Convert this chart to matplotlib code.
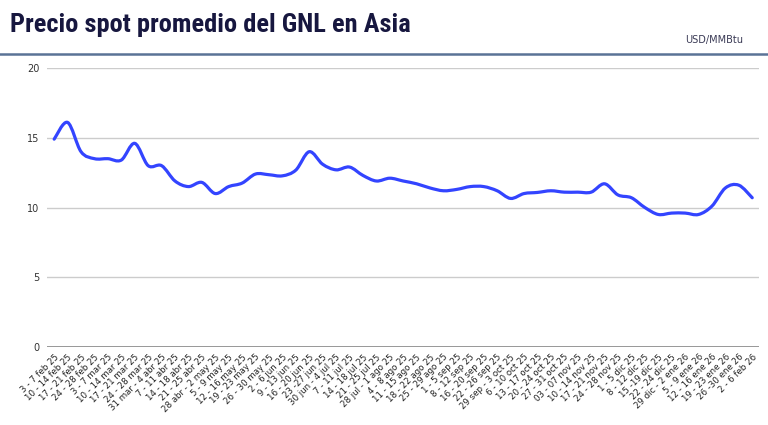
import numpy as np
import matplotlib
matplotlib.use("Agg")
import matplotlib.pyplot as plt
from matplotlib.path import Path
from matplotlib.patches import PathPatch
from matplotlib.lines import Line2D
from matplotlib import font_manager

weeks = [
    "3 - 7 feb 25", "10 - 14 feb 25", "17 - 21 feb 25", "24 - 28 feb 25",
    "3 - 7 mar 25", "10 - 14 mar 25", "17 - 21 mar 25", "24 - 28 mar 25",
    "31 mar - 4 abr 25", "7 - 11 abr 25", "14 - 18 abr 25", "21 - 25 abr 25",
    "28 abr - 2 may 25", "5 - 9 may 25", "12 - 16 may 25", "19 - 23 may 25",
    "26 - 30 may 25", "2 - 6 jun 25", "9 - 13 jun 25", "16 - 20 jun 25",
    "23 -27 jun 25", "30 jun - 4 jul 25", "7 - 11 jul 25", "14 - 18 jul 25",
    "21 - 25 jul 25", "28 jul - 1 ago 25", "4 - 8 ago 25", "11 - 15 ago 25",
    "18 - 22 ago 25", "25 - 29 ago 25", "1 - 5 sep 25", "8 - 12 sep 25",
    "16 - 20 sep 25", "22 - 26 sep 25", "29 sep - 3 oct 25", "6 - 10 oct 25",
    "13 - 17 oct 25", "20 - 24 oct 25", "27 - 31 oct 25", "03 - 07 nov 25",
    "10 - 14 nov 25", "17 - 21 nov 25", "24 - 28 nov 25", "1 - 5 dic 25",
    "8 - 12 dic 25", "15 -19 dic 25", "22 - 24 dic 25", "29 dic - 2 ene 26",
    "5 - 9 ene 26", "12 - 16 ene 26", "19 - 23 ene 26", "26 -30 ene 26",
    "2 - 6 feb 26",
]

precio = [
    14.9, 16.1, 14.0, 13.5, 13.5, 13.4, 14.6, 13.0, 13.0, 11.9,
    11.5, 11.8, 11.0, 11.5, 11.75, 12.4, 12.35, 12.27, 12.68, 14.0,
    13.1, 12.7, 12.9, 12.3, 11.9, 12.1, 11.9, 11.7, 11.4, 11.2,
    11.3, 11.5, 11.5, 11.2, 10.65, 11.0, 11.08, 11.2, 11.1, 11.1,
    11.1, 11.7, 10.9, 10.7, 10.0, 9.5, 9.6, 9.6, 9.5, 10.1,
    11.4, 11.6, 10.7,
]

y_ticks = [0, 5, 10, 15, 20]

LINE = "#3344ff"
NAVY = "#17173f"

# pick a narrow bold face for the title if one is installed
installed = {f.name for f in font_manager.fontManager.ttflist}
title_fam = "DejaVu Sans"
title_size = 15.5
for fam in ["Roboto Condensed", "Open Sans Condensed", "Liberation Sans Narrow",
            "Arial Narrow"]:
    if fam in installed:
        title_fam = fam
        title_size = 19
        break

fig = plt.figure(figsize=(7.68, 4.25), dpi=100)
fig.patch.set_facecolor("white")

# title band
fig.text(0.013, 0.925, "Precio spot promedio del GNL en Asia", color=NAVY,
         fontsize=title_size, fontweight="bold", family=title_fam,
         ha="left", va="baseline")
fig.text(0.967, 0.899, "USD/MMBtu", color="#3a3a55", fontsize=7,
         ha="right", va="baseline")
fig.add_artist(Line2D([0, 1], [0.873, 0.873], color="#5a7396", lw=1.8,
                      transform=fig.transFigure))

ax = fig.add_axes([0.0618, 0.1835, 0.9264, 0.6565])
x = np.arange(len(precio))
y = np.array(precio, dtype=float)

# smooth curve through the points (cubic bezier, catmull-rom tangents)
verts = [(x[0], y[0])]
codes = [Path.MOVETO]
n = len(x)
for i in range(n - 1):
    p0 = (x[max(i - 1, 0)], y[max(i - 1, 0)])
    p1 = (x[i], y[i])
    p2 = (x[i + 1], y[i + 1])
    p3 = (x[min(i + 2, n - 1)], y[min(i + 2, n - 1)])
    c1 = (p1[0] + (p2[0] - p0[0]) / 6, p1[1] + (p2[1] - p0[1]) / 6)
    c2 = (p2[0] - (p3[0] - p1[0]) / 6, p2[1] - (p3[1] - p1[1]) / 6)
    verts += [c1, c2, p2]
    codes += [Path.CURVE4] * 3
ax.add_patch(PathPatch(Path(verts, codes), facecolor="none", edgecolor=LINE,
                       lw=2.3, capstyle="round", joinstyle="round", zorder=3))

ax.set_xlim(-0.5, n - 0.5)
ax.set_ylim(0, 20)
ax.set_yticks(y_ticks)
ax.set_xticks(x)
ax.set_xticklabels(weeks, rotation=45, ha="right", rotation_mode="anchor",
                   fontsize=6.2, color="#222222")
ax.tick_params(axis="y", labelsize=7, colors="#333333", length=0, pad=6)
ax.tick_params(axis="x", length=0, pad=4)
ax.grid(axis="y", color="#cccccc", lw=1)
ax.axhline(0, color="#888888", lw=1.2, zorder=2)
for s in ax.spines.values():
    s.set_visible(False)

fig.savefig("out.png", dpi=100)
